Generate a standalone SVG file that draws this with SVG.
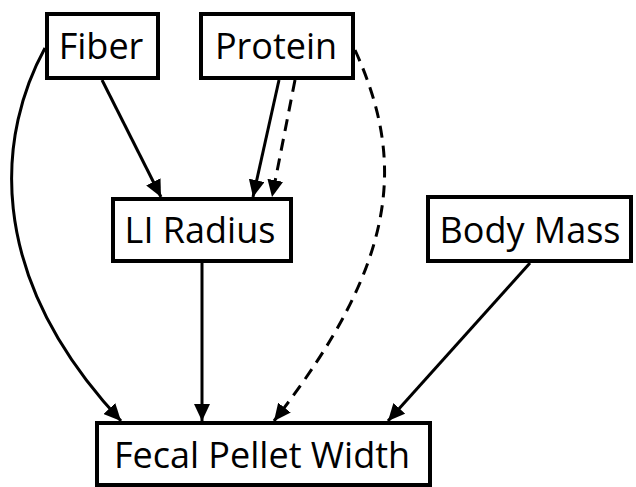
<svg xmlns="http://www.w3.org/2000/svg" width="636" height="487" viewBox="0 0 636 487">
<style>
.box{fill:#fff;stroke:#000;stroke-width:4}
.lbl{font-family:"Open Sans","Liberation Sans",sans-serif;font-size:36px;fill:#000;text-anchor:middle}
.edge{fill:none;stroke:#000;stroke-width:3;marker-end:url(#ah)}
.dash{stroke-dasharray:12 8}
</style>
<defs>
<marker id="ah" markerUnits="userSpaceOnUse" markerWidth="18" markerHeight="16" refX="17" refY="8" orient="auto">
<path d="M0,0 L17,8 L0,16 Z" fill="#000"/>
</marker>
</defs>
<g id="connectors">
<path class="edge" d="M45,48 C0,130 -20,270 121,421"/>
<path class="edge" d="M102,80 L161,197"/>
<path class="edge" d="M279,80 L253,197"/>
<path class="edge dash" d="M295,80 L272,197"/>
<path class="edge dash" d="M355,50 C405,160 400,260 274,421"/>
<path class="edge" d="M202,263 L202,421"/>
<path class="edge" d="M530,263 L388,421"/>
</g>
<g id="fiber"><rect class="box" x="47" y="14" width="111" height="64"/><text class="lbl" x="101" y="59">Fiber</text></g>
<g id="protein"><rect class="box" x="201" y="14" width="152" height="64"/><text class="lbl" x="276" y="59">Protein</text></g>
<g id="li-radius"><rect class="box" x="113" y="199" width="178" height="62"/><text class="lbl" x="200" y="243">LI Radius</text></g>
<g id="body-mass"><rect class="box" x="428" y="197" width="203" height="64"/><text class="lbl" x="530" y="243">Body Mass</text></g>
<g id="fecal-pellet-width"><rect class="box" x="97" y="423" width="333" height="62"/><text class="lbl" x="262" y="468">Fecal Pellet Width</text></g>
</svg>
